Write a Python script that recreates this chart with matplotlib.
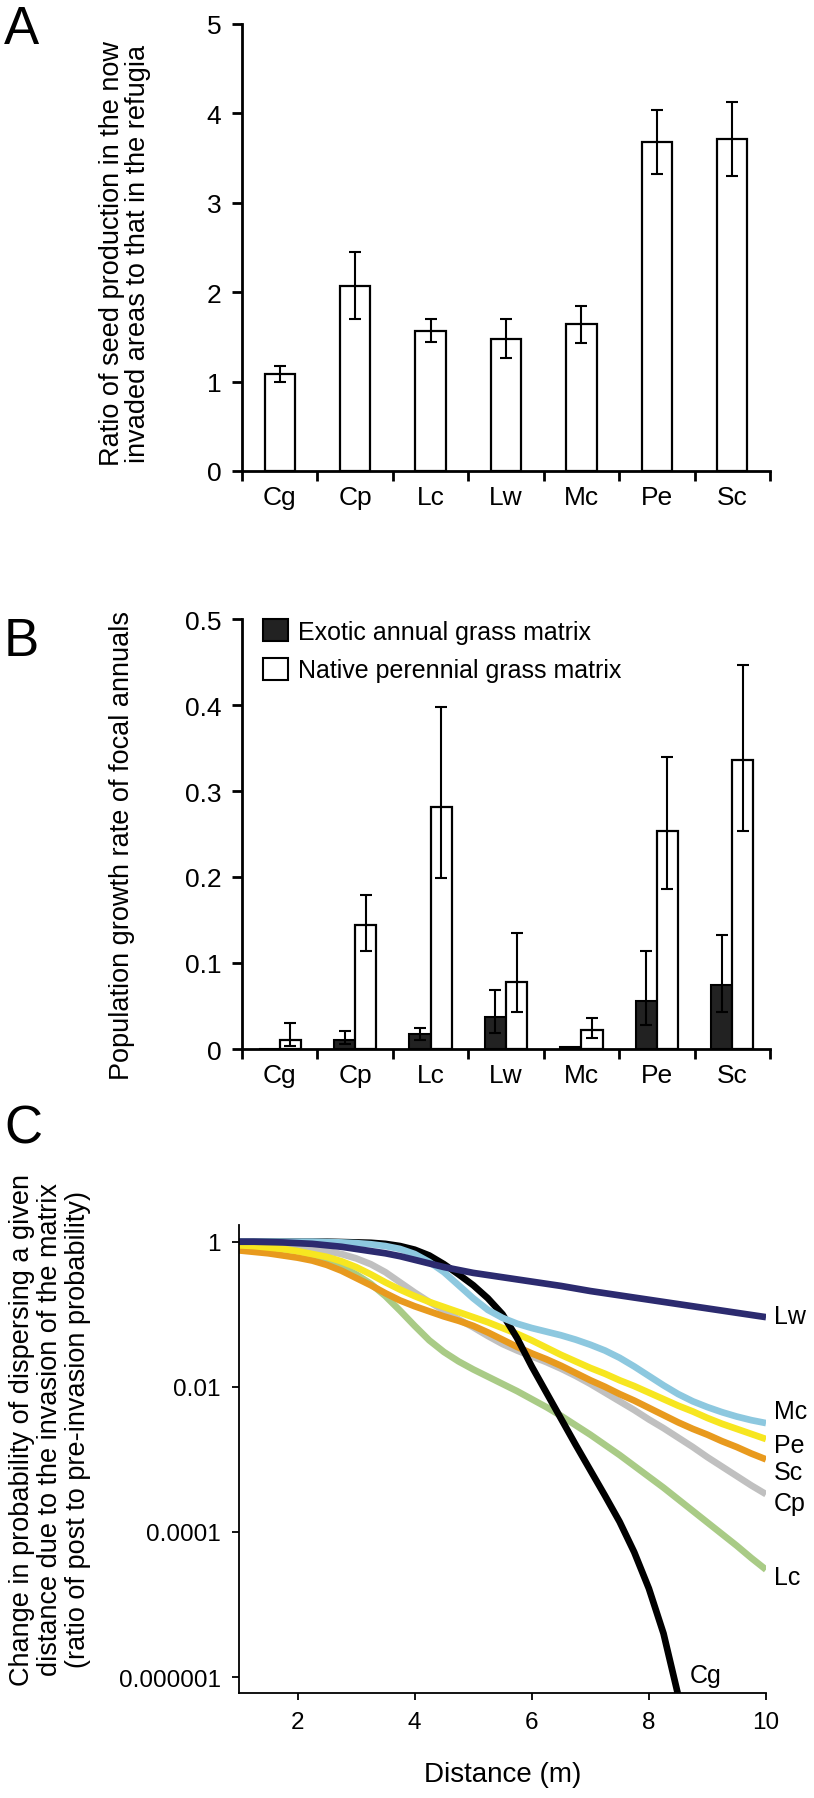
import numpy as np
import matplotlib
matplotlib.use('Agg')
import matplotlib.pyplot as plt
from matplotlib import font_manager
from matplotlib.patches import Patch

names = {f.name for f in font_manager.fontManager.ttflist}
narrow = 'Liberation Sans Narrow' if 'Liberation Sans Narrow' in names else 'Liberation Sans'
regular = 'Liberation Sans'
plt.rcParams['font.family'] = [regular, 'DejaVu Sans']

# --- data ---
species = ['Cg', 'Cp', 'Lc', 'Lw', 'Mc', 'Pe', 'Sc']

# panel A: seed production ratio (invaded / refugia)
seed_ratio = [1.09, 2.07, 1.57, 1.48, 1.64, 3.68, 3.71]
seed_ratio_se = [0.09, 0.375, 0.13, 0.22, 0.21, 0.36, 0.415]

# panel B: population growth rate, bar value plus lower / upper ends of error bars
exotic = [0.0, 0.011, 0.0176, 0.037, 0.0025, 0.056, 0.075]
exotic_lo = [np.nan, 0.0055, 0.010, 0.019, np.nan, 0.028, 0.043]
exotic_hi = [np.nan, 0.021, 0.025, 0.069, np.nan, 0.114, 0.132]
native = [0.011, 0.144, 0.281, 0.0775, 0.022, 0.253, 0.336]
native_lo = [0.004, 0.114, 0.199, 0.043, 0.013, 0.186, 0.253]
native_hi = [0.030, 0.179, 0.398, 0.135, 0.0365, 0.340, 0.447]

# panel C: log10 of change in dispersal probability vs distance (m)
distance = [1.0, 1.25, 1.5, 1.75, 2.0, 2.25, 2.5, 2.75, 3.0, 3.25, 3.5, 3.75, 4.0,
            4.25, 4.5, 4.75, 5.0, 5.25, 5.5, 5.75, 6.0, 6.25, 6.5, 6.75, 7.0,
            7.25, 7.5, 7.75, 8.0, 8.25, 8.5, 8.75, 9.0, 9.25, 9.5, 9.75, 10.0]
log_lw = [0.0, 0.0, -0.005, -0.01, -0.02, -0.03, -0.05, -0.07, -0.10, -0.13, -0.16, -0.20, -0.25,
          -0.30, -0.35, -0.39, -0.43, -0.46, -0.49, -0.52, -0.55, -0.58, -0.61, -0.645, -0.68,
          -0.71, -0.74, -0.77, -0.80, -0.83, -0.86, -0.89, -0.92, -0.95, -0.98, -1.01, -1.04]
log_mc = [0.0, 0.0, 0.0, 0.0, 0.0, 0.0, -0.005, -0.01, -0.02, -0.035, -0.06, -0.10, -0.17,
          -0.28, -0.42, -0.60, -0.78, -0.94, -1.05, -1.13, -1.19, -1.24, -1.29, -1.35, -1.42,
          -1.50, -1.60, -1.72, -1.85, -1.98, -2.10, -2.20, -2.28, -2.35, -2.41, -2.46, -2.50]
log_pe = [-0.05, -0.06, -0.08, -0.10, -0.13, -0.17, -0.21, -0.27, -0.35, -0.45, -0.56, -0.66, -0.75,
          -0.83, -0.90, -0.97, -1.04, -1.11, -1.19, -1.27, -1.36, -1.46, -1.56, -1.65, -1.74,
          -1.82, -1.91, -1.99, -2.08, -2.17, -2.26, -2.34, -2.43, -2.51, -2.58, -2.65, -2.72]
log_sc = [-0.12, -0.14, -0.16, -0.19, -0.22, -0.26, -0.32, -0.40, -0.50, -0.60, -0.71, -0.81, -0.89,
          -0.96, -1.03, -1.09, -1.16, -1.25, -1.35, -1.45, -1.54, -1.62, -1.71, -1.81, -1.91,
          -2.00, -2.10, -2.19, -2.29, -2.39, -2.49, -2.58, -2.66, -2.75, -2.83, -2.92, -3.00]
log_cp = [-0.01, -0.02, -0.03, -0.05, -0.07, -0.10, -0.13, -0.17, -0.23, -0.31, -0.42, -0.56, -0.70,
          -0.83, -0.95, -1.07, -1.18, -1.30, -1.41, -1.50, -1.58, -1.66, -1.75, -1.85, -1.96,
          -2.08, -2.20, -2.32, -2.45, -2.57, -2.70, -2.83, -2.97, -3.10, -3.23, -3.36, -3.48]
log_lc = [-0.03, -0.05, -0.07, -0.10, -0.13, -0.18, -0.25, -0.34, -0.45, -0.58, -0.75, -0.95, -1.16,
          -1.36, -1.52, -1.65, -1.76, -1.86, -1.96, -2.06, -2.17, -2.28, -2.40, -2.53, -2.66,
          -2.80, -2.94, -3.09, -3.24, -3.39, -3.55, -3.71, -3.87, -4.03, -4.19, -4.36, -4.52]
distance_cg = [1.0, 1.25, 1.5, 1.75, 2.0, 2.25, 2.5, 2.75, 3.0, 3.25, 3.5, 3.75, 4.0,
               4.25, 4.5, 4.75, 5.0, 5.25, 5.5, 5.75, 6.0, 6.25, 6.5, 6.75, 7.0,
               7.25, 7.5, 7.75, 8.0, 8.25, 8.5]
log_cg = [0.0, 0.0, 0.0, 0.0, 0.0, 0.0, 0.0, -0.005, -0.01, -0.015, -0.03, -0.06, -0.11,
          -0.19, -0.31, -0.45, -0.60, -0.78, -1.00, -1.33, -1.72, -2.08, -2.44, -2.80, -3.15,
          -3.50, -3.86, -4.28, -4.78, -5.40, -6.25]

# end labels of panel C (log10 y of label)
end_labels = ['Lw', 'Mc', 'Pe', 'Sc', 'Cp', 'Lc']
end_label_y = [-1.02, -2.34, -2.80, -3.17, -3.60, -4.62]

W, H = 814, 1799
fig = plt.figure(figsize=(W / 100, H / 100), dpi=100)


def frac_box(x0, y0, x1, y1):
    return [x0 / W, 1 - y1 / H, (x1 - x0) / W, (y1 - y0) / H]


def style_bar_axes(ax, ymax, yticks, ylabels):
    ax.set_xlim(0, 7)
    ax.set_ylim(0, ymax)
    for s in ['top', 'right']:
        ax.spines[s].set_visible(False)
    for s in ['left', 'bottom']:
        ax.spines[s].set_linewidth(2)
    ax.set_yticks(yticks)
    ax.set_yticklabels(ylabels, fontfamily=narrow, fontsize=19)
    ax.tick_params(axis='y', direction='out', length=7, width=2, pad=8)
    ax.set_xticks(range(8))
    ax.set_xticklabels([''] * 8)
    ax.tick_params(axis='x', which='major', direction='out', length=7, width=2)
    ax.set_xticks(np.arange(7) + 0.5, minor=True)
    ax.set_xticklabels(species, minor=True, fontfamily=narrow, fontsize=19)
    ax.tick_params(axis='x', which='minor', length=0, pad=10)


# ---- panel A ----
axA = fig.add_axes(frac_box(242, 25, 770, 472))
xa = np.arange(7) + 0.5
axA.bar(xa, seed_ratio, width=0.4, color='white', edgecolor='black', linewidth=1.6, zorder=2)
axA.errorbar(xa, seed_ratio, yerr=seed_ratio_se, fmt='none', ecolor='black',
             elinewidth=1.5, capsize=4.5, capthick=1.5, zorder=3)
style_bar_axes(axA, 5, range(6), [str(i) for i in range(6)])

# ---- panel B ----
axB = fig.add_axes(frac_box(242, 620, 770, 1050))
xe = xa - 0.14
xn = xa + 0.14
axB.bar(xe, exotic, width=0.28, color='#222222', edgecolor='black', linewidth=1.5, zorder=2)
axB.bar(xn, native, width=0.28, color='white', edgecolor='black', linewidth=1.6, zorder=2)
ex = np.array(exotic)
elo = np.array(exotic_lo)
ehi = np.array(exotic_hi)
m = ~np.isnan(elo)
axB.errorbar(xe[m], ex[m], yerr=[ex[m] - elo[m], ehi[m] - ex[m]], fmt='none', ecolor='black',
             elinewidth=1.5, capsize=4, capthick=1.5, zorder=3)
nv = np.array(native)
axB.errorbar(xn, nv, yerr=[nv - np.array(native_lo), np.array(native_hi) - nv], fmt='none',
             ecolor='black', elinewidth=1.5, capsize=4, capthick=1.5, zorder=3)
style_bar_axes(axB, 0.5, [0, 0.1, 0.2, 0.3, 0.4, 0.5], ['0', '0.1', '0.2', '0.3', '0.4', '0.5'])
handles = [Patch(facecolor='#222222', edgecolor='black', linewidth=1.5),
           Patch(facecolor='white', edgecolor='black', linewidth=1.5)]
axB.legend(handles, ['Exotic annual grass matrix', 'Native perennial grass matrix'],
           loc='upper left', bbox_to_anchor=(0.04, 1.0), frameon=False,
           prop={'family': narrow, 'size': 18}, handlelength=1.0, handleheight=1.0,
           handletextpad=0.4, labelspacing=0.55, borderpad=0, borderaxespad=0)

# ---- panel C ----
axC = fig.add_axes(frac_box(239, 1226, 766, 1694))
series = [
    (log_cp, '#C0C0C0'),
    (log_lc, '#A9CB86'),
    (log_sc, '#E89A1E'),
    (log_pe, '#F7E620'),
]
for vals, col in series:
    axC.plot(distance, 10 ** np.array(vals), color=col, lw=4.8, solid_capstyle='butt')
axC.plot(distance_cg, 10 ** np.array(log_cg), color='black', lw=4.8, solid_capstyle='butt')
axC.plot(distance, 10 ** np.array(log_mc), color='#8DC8DF', lw=4.8, solid_capstyle='butt')
axC.plot(distance, 10 ** np.array(log_lw), color='#2C2B6F', lw=4.8, solid_capstyle='butt')
axC.set_yscale('log')
axC.set_xlim(1, 10)
axC.set_ylim(10 ** -6.22, 10 ** 0.23)
axC.set_yticks([1, 1e-2, 1e-4, 1e-6])
axC.set_yticklabels(['1', '0.01', '0.0001', '0.000001'], fontsize=17.5)
axC.yaxis.set_minor_locator(matplotlib.ticker.NullLocator())
axC.set_xticks([2, 4, 6, 8, 10])
axC.set_xticklabels(['2', '4', '6', '8', '10'], fontsize=17.5)
axC.tick_params(direction='out', length=5, width=1.3, pad=8)
for s in ['top', 'right']:
    axC.spines[s].set_visible(False)
for s in ['left', 'bottom']:
    axC.spines[s].set_linewidth(1.3)
for lab, ly in zip(end_labels, end_label_y):
    axC.text(10.13, 10 ** ly, lab, fontsize=18, ha='left', va='center', clip_on=False)
axC.text(8.7, 10 ** -5.97, 'Cg', fontsize=18, ha='left', va='center')
axC.set_xlabel('Distance (m)', fontsize=20, labelpad=20)

# ---- y labels and panel letters ----
fig.text(125 / W, 1 - 254 / H, 'Ratio of seed production in the now\ninvaded areas to that in the refugia',
         rotation=90, ha='center', va='center', fontsize=19.5, linespacing=1.0)
fig.text(122 / W, 1 - 845 / H, 'Population growth rate of focal annuals',
         rotation=90, ha='center', va='center', fontsize=19.5)
fig.text(50 / W, 1 - 1430 / H,
         'Change in probability of dispersing a given\ndistance due to the invasion of the matrix\n(ratio of post to pre-invasion probability)',
         rotation=90, ha='center', va='center', fontsize=19.5, linespacing=1.1)
for letter, yc in [('A', 30), ('B', 642), ('C', 1129)]:
    fig.text(4 / W, 1 - yc / H, letter, fontsize=38, ha='left', va='center')

fig.savefig('out.png', dpi=100)
